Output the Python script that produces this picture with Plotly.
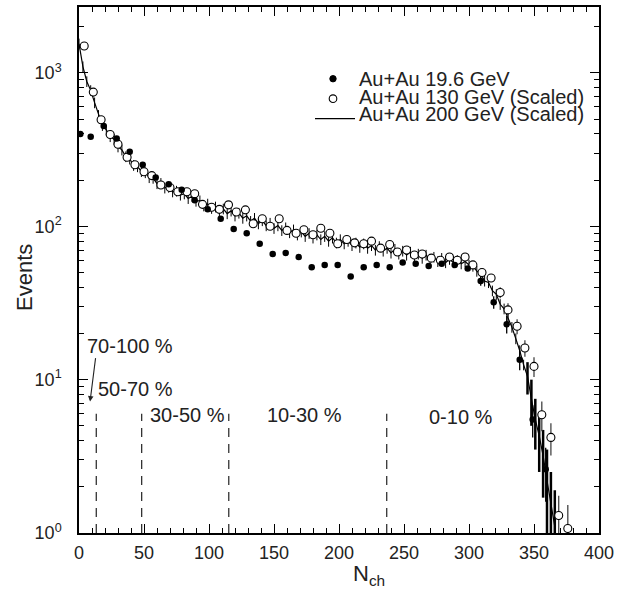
import plotly.graph_objects as go

# ---- data ----
# Au+Au 19.6 GeV (filled circles)
filled_x = [1, 9, 19, 29, 39, 49, 59, 69, 79, 89, 99, 109, 119, 129, 139, 149, 159, 169, 179, 189,
            199, 209, 219, 229, 239, 249, 259, 269, 279, 289, 299, 309, 319, 329, 339, 349, 359]
filled_y = [400, 383, 450, 373, 306, 252, 208, 188, 173, 148, 129, 112, 96, 90, 77, 66, 67, 63, 54, 56,
            56, 47, 54, 56, 54, 58, 57, 55, 57, 56, 53, 44, 32, 23, 13.5, 5.5, 2.6]
filled_err = [0, 0, 0, 0, 0, 0, 0, 0, 0, 0, 0, 0, 0, 0, 0, 0, 0, 0, 0, 0,
              0, 0, 0, 0, 0, 0, 0, 0, 0, 0, 0, 3, 3, 3, 2, 1.3, 1.0]

# Au+Au 130 GeV (scaled, open circles)
open_x = [4, 11, 17, 24, 30, 37, 43, 50, 56, 63, 70, 76, 83, 89, 95, 102, 108, 115, 121, 128,
          134, 141, 147, 154, 160, 167, 173, 180, 186, 193, 199, 206, 212, 219, 225, 232, 239, 245, 252, 258,
          264, 271, 278, 285, 291, 297, 303, 310, 317, 324, 330, 337, 343, 350, 356, 363, 369, 376]
open_y = [1500, 750, 495, 397, 343, 282, 252, 227, 214, 186, 179, 168, 168, 163, 139, 133, 129, 138, 124, 128,
          104, 112, 100, 112, 94, 90, 95, 88, 97, 90, 77, 82, 78, 77, 80, 72, 76, 68, 70, 65,
          66, 62, 60, 63, 60, 63, 56, 50, 46, 37, 28.5, 22.3, 16.1, 12.2, 5.9, 4.2, 1.3, 1.07]
open_err = [0, 0, 0, 0, 0, 0, 0, 0, 0, 0, 0, 0, 0, 0, 0, 0, 0, 0, 0, 0,
            0, 0, 0, 0, 0, 0, 0, 0, 0, 0, 0, 0, 0, 0, 0, 0, 0, 0, 0, 0,
            0, 0, 0, 0, 0, 0, 0, 0, 0, 3, 3, 2.5, 2, 1.8, 1.3, 1.0, 0.45, 0.45]

# Au+Au 200 GeV (scaled, line)
line_x = [0, 3, 6, 9, 12, 15, 18, 21, 24, 27, 30, 33, 36, 39, 42, 45, 48, 51, 54, 57,
          60, 63, 66, 69, 72, 75, 78, 81, 84, 87, 90, 93, 96, 99, 102, 105, 108, 111, 114, 117,
          120, 123, 126, 129, 132, 135, 138, 141, 144, 147, 150, 153, 156, 159, 162, 165, 168, 171, 174, 177,
          180, 183, 186, 189, 192, 195, 198, 201, 204, 207, 210, 213, 216, 219, 222, 225, 228, 231, 234, 237,
          240, 243, 246, 249, 252, 255, 258, 261, 264, 267, 270, 273, 276, 279, 282, 285, 288, 291, 294, 297,
          300, 303, 306, 309, 312, 315, 318, 321, 324, 327, 330, 333, 336, 339, 342, 345, 348, 351, 354, 357,
          360, 363, 366]
line_y = [1550, 1100, 880, 770, 640, 530, 455, 425, 385, 370, 330, 315, 285, 275, 250, 245, 228, 224, 208, 206,
          190, 191, 178, 180, 168, 170, 160, 163, 152, 157, 146, 147, 136, 140, 131, 134, 125, 130, 121, 126,
          117, 122, 113, 117, 108, 113, 104, 109, 101, 105, 97, 101, 94, 98, 91, 95, 88, 92, 86, 90,
          84, 88, 82, 86, 80, 84, 78, 82, 77, 80, 75, 78, 73, 77, 72, 75, 70, 74, 69, 72,
          67, 71, 66, 69, 65, 68, 63, 66, 62, 65, 61, 63, 59, 62, 58, 61, 58, 60, 57, 59,
          56, 55, 51, 49, 44, 43, 38, 36, 31, 29, 25.5, 22, 18.5, 15.5, 12.5, 10.5, 7.5, 5.5, 4.3, 3.2,
          2.2, 1.5, 1.1]
line_err_pct = 8
tail_idx = [115, 116, 117, 118, 119, 120, 121, 122]
tail_err = [2.5, 2.5, 2.0, 1.8, 1.5, 1.3, 1.0, 0.8]

# centrality boundaries and labels
cut_x = [13.3, 48.2, 115.2, 236.7]
cut_top = 6
cent_labels = ["70-100 %", "50-70 %", "30-50 %", "10-30 %", "0-10 %"]
cent_pos = [(0.0115, 0.356), (0.0327, 0.2746), (0.1327, 0.2235), (0.3577, 0.2235), (0.6692, 0.2197)]

legend_labels = ["Au+Au 19.6 GeV", "Au+Au 130 GeV (Scaled)", "Au+Au 200 GeV (Scaled)"]

x_ticks = [0, 50, 100, 150, 200, 250, 300, 350, 400]
y_ticks = [1, 10, 100, 1000]
y_ticktext = ["10<sup>0</sup>", "10<sup>1</sup>", "10<sup>2</sup>", "10<sup>3</sup>"]

# ---- figure ----
L, R, T, B = 79, 20, 5, 62
W, H = 619, 595
PW, PH = W - L - R, H - T - B

def px2paper(px, py):
    return (px - L) / PW, (H - B - py) / PH

FONT = "Liberation Sans, Arial, Helvetica"
TXT = "#222222"

fig = go.Figure()

for cx in cut_x:
    fig.add_trace(go.Scatter(x=[cx, cx], y=[1, cut_top], mode="lines",
                             line=dict(color="#333333", width=1.3, dash="9px,7px"),
                             hoverinfo="skip", showlegend=False))

fig.add_trace(go.Scatter(x=line_x, y=line_y, mode="lines",
                         line=dict(color="black", width=1.2),
                         error_y=dict(type="percent", value=line_err_pct, width=0,
                                      thickness=1, color="black"),
                         name=legend_labels[2], showlegend=False))
fig.add_trace(go.Scatter(x=[line_x[i] for i in tail_idx], y=[line_y[i] for i in tail_idx],
                         mode="markers", marker=dict(size=1, color="black"),
                         error_y=dict(type="data", array=tail_err, width=0, thickness=2.5,
                                      color="black"),
                         hoverinfo="skip", showlegend=False))

fig.add_trace(go.Scatter(x=open_x, y=open_y, mode="markers",
                         marker=dict(symbol="circle", size=8, color="white",
                                     line=dict(color="black", width=1.1)),
                         error_y=dict(type="data", array=open_err, width=0, thickness=1.3,
                                      color="#444444"),
                         name=legend_labels[1], showlegend=False))

fig.add_trace(go.Scatter(x=filled_x, y=filled_y, mode="markers",
                         marker=dict(symbol="circle", size=6.5, color="black"),
                         error_y=dict(type="data", array=filled_err, width=0, thickness=1.3,
                                      color="black"),
                         name=legend_labels[0], showlegend=False))

annotations = []
for (lx, ly), txt in zip(cent_pos, cent_labels):
    annotations.append(dict(x=lx, y=ly, xref="paper", yref="paper", text=txt, showarrow=False,
                            xanchor="left", yanchor="middle",
                            font=dict(family=FONT, size=20, color=TXT)))
# arrow from 70-100 % label
annotations.append(dict(x=8.5, y=0.857, xref="x", yref="y", text="", showarrow=True,
                        ax=5.7, ay=-45, arrowhead=2, arrowsize=1, arrowwidth=1.1,
                        arrowcolor=TXT))

# legend text
leg_y = [77, 95, 112]
for txt, py in zip(legend_labels, leg_y):
    px_, py_ = px2paper(357, py)
    annotations.append(dict(x=px_, y=py_, xref="paper", yref="paper", text=txt, showarrow=False,
                            xanchor="left", yanchor="middle",
                            font=dict(family=FONT, size=20, color=TXT)))

# axis titles
ex, ey = px2paper(25, 277)
annotations.append(dict(x=ex, y=ey, xref="paper", yref="paper", text="Events", showarrow=False,
                        textangle=-90, xanchor="center", yanchor="middle",
                        font=dict(family=FONT, size=22, color=TXT)))
nx, ny = px2paper(369, 575)
annotations.append(dict(x=nx, y=ny, xref="paper", yref="paper", text="N<sub>ch</sub>", showarrow=False,
                        xanchor="center", yanchor="middle",
                        font=dict(family=FONT, size=22, color=TXT)))

# legend symbols as shapes
shapes = []
cx, cy = px2paper(333, 77)
r = 3.2
shapes.append(dict(type="circle", xref="paper", yref="paper",
                   x0=cx - r / PW, x1=cx + r / PW, y0=cy - r / PH, y1=cy + r / PH,
                   fillcolor="black", line=dict(color="black", width=1)))
cx, cy = px2paper(333, 97)
r = 3.8
shapes.append(dict(type="circle", xref="paper", yref="paper",
                   x0=cx - r / PW, x1=cx + r / PW, y0=cy - r / PH, y1=cy + r / PH,
                   fillcolor="white", line=dict(color="black", width=1.1)))
x0, y0 = px2paper(315, 117)
x1, _ = px2paper(355, 117)
shapes.append(dict(type="line", xref="paper", yref="paper", x0=x0, x1=x1, y0=y0, y1=y0,
                   line=dict(color="black", width=1.2)))

tickfont = dict(family=FONT, size=18, color=TXT)

fig.update_layout(
    width=W, height=H,
    margin=dict(l=L, r=R, t=T, b=B),
    paper_bgcolor="white", plot_bgcolor="white",
    showlegend=False,
    annotations=annotations,
    shapes=shapes,
    xaxis=dict(range=[0, 400], tickvals=x_ticks, ticks="inside", ticklen=9, tickwidth=1.2,
               tickcolor="black", showline=True, linecolor="black", linewidth=1.5,
               mirror="ticks", showgrid=False, zeroline=False, tickfont=tickfont,
               ticklabelstandoff=3,
               minor=dict(ticks="inside", ticklen=5, dtick=10, tickcolor="black", tickwidth=1,
                          showgrid=False)),
    yaxis=dict(type="log", range=[0, 3.43], tickvals=y_ticks, ticktext=y_ticktext,
               ticks="inside", ticklen=9, tickwidth=1.2, tickcolor="black",
               showline=True, linecolor="black", linewidth=1.5, mirror="ticks",
               showgrid=False, zeroline=False, tickfont=tickfont, ticklabelstandoff=12,
               minor=dict(ticks="inside", ticklen=5, dtick="D1", tickcolor="black", tickwidth=1,
                          showgrid=False)),
)

fig.write_html("out.html")
